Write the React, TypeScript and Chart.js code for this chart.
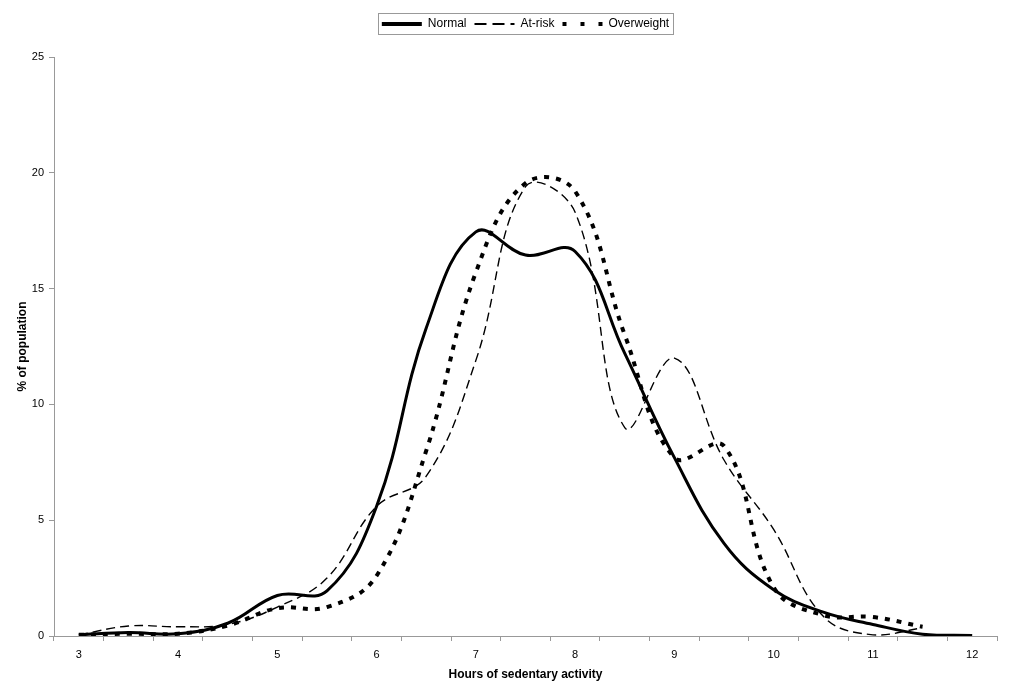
import { useEffect, useRef } from 'react';
import { Chart, registerables } from 'chart.js';

Chart.register(...registerables);

const hours = ['3', '3.5', '4', '4.5', '5', '5.5', '6', '6.5', '7', '7.5', '8', '8.5', '9', '9.5', '10', '10.5', '11', '11.5', '12'];
const xTickLabels = ['3', '4', '5', '6', '7', '8', '9', '10', '11', '12'];

const normal = [0.05, 0.15, 0.1, 0.55, 1.75, 1.95, 5.6, 13.3, 17.45, 16.45, 16.6, 12.2, 7.7, 4.0, 2.0, 1.03, 0.5, 0.08, 0.02];
const atRisk = [0.05, 0.43, 0.4, 0.5, 1.25, 2.5, 5.6, 6.9, 11.9, 19.4, 18.3, 9.0, 12.0, 7.6, 4.6, 0.85, 0.05, 0.35, null];
const overweight = [0.05, 0.1, 0.1, 0.45, 1.2, 1.25, 2.6, 8.0, 15.7, 19.55, 19.2, 13.0, 7.7, 8.2, 2.1, 0.9, 0.82, 0.4, null];

const seriesNames = ['Normal', 'At-risk', 'Overweight'];
const yMax = 25;
const yStep = 5;

export default function App() {
  const ref = useRef<HTMLCanvasElement>(null);

  useEffect(() => {
    if (!ref.current) return;
    Chart.defaults.font.family = "'Liberation Sans', Arial, sans-serif";
    Chart.defaults.color = '#000';

    const legendBorder = {
      id: 'legendBorder',
      beforeLayout(chart: any) {
        const lg = chart.legend;
        if (lg && !lg.__patched) {
          const orig = lg.fit.bind(lg);
          lg.fit = function () {
            orig();
            this.height += 17;
          };
          lg.__patched = true;
        }
      },
      afterLayout(chart: any) {
        const lg = chart.legend;
        if (lg) {
          const shift = (chart.chartArea.left + chart.chartArea.right) / 2 - (lg.left + lg.right) / 2;
          lg.left += shift;
          lg.right += shift;
        }
      },
      afterDraw(chart: any) {
        const boxes = chart.legend?.legendHitBoxes;
        if (!boxes || !boxes.length) return;
        let x0 = Infinity, x1 = -Infinity, y0 = Infinity, y1 = -Infinity;
        for (const b of boxes) {
          x0 = Math.min(x0, b.left);
          x1 = Math.max(x1, b.left + b.width);
          y0 = Math.min(y0, b.top);
          y1 = Math.max(y1, b.top + b.height);
        }
        const ctx = chart.ctx;
        ctx.save();
        ctx.strokeStyle = '#999';
        ctx.lineWidth = 1;
        ctx.setLineDash([]);
        ctx.strokeRect(Math.round(x0 - 4) + 0.5, Math.round(y0 - 5) + 0.5, Math.round(x1 - x0 + 8), Math.round(y1 - y0 + 9));
        ctx.restore();
      },
    };

    const chart = new Chart(ref.current, {
      type: 'line',
      data: {
        labels: hours,
        datasets: [
          {
            label: seriesNames[0],
            data: normal,
            borderColor: '#000',
            backgroundColor: '#000',
            borderWidth: 3,
            pointRadius: 0,
            tension: 0.4,
            fill: false,
          },
          {
            label: seriesNames[1],
            data: atRisk,
            borderColor: '#000',
            backgroundColor: '#000',
            borderWidth: 1.4,
            borderDash: [9, 5],
            pointRadius: 0,
            tension: 0.4,
            fill: false,
          },
          {
            label: seriesNames[2],
            data: overweight,
            borderColor: '#000',
            backgroundColor: '#000',
            borderWidth: 4,
            borderDash: [5, 7],
            pointRadius: 0,
            tension: 0.4,
            fill: false,
          },
        ],
      },
      options: {
        animation: false,
        responsive: true,
        maintainAspectRatio: false,
        layout: { padding: { top: 10, right: 14, bottom: 0, left: 0 } },
        plugins: {
          tooltip: { enabled: false },
          legend: {
            position: 'top',
            labels: {
              usePointStyle: true,
              pointStyle: 'line',
              pointStyleWidth: 40,
              padding: 8,
              color: '#000',
              font: { size: 12 },
              generateLabels: (ch: any) =>
                ch.data.datasets.map((ds: any, i: number) => ({
                  text: ds.label,
                  fillStyle: '#000',
                  strokeStyle: '#000',
                  fontColor: '#000',
                  lineWidth: i === 0 ? 4 : i === 1 ? 2 : 4,
                  lineDash: i === 0 ? [] : i === 1 ? [12, 6] : [4, 14],
                  lineCap: 'butt',
                  pointStyle: 'line',
                  hidden: false,
                  datasetIndex: i,
                })),
            },
          },
        },
        scales: {
          x: {
            type: 'category',
            offset: true,
            grid: { offset: true, drawOnChartArea: false, drawTicks: true, tickLength: 5, color: '#999' },
            border: { color: '#999' },
            ticks: {
              autoSkip: false,
              maxRotation: 0,
              padding: 7,
              font: { size: 11 },
              color: '#000',
              callback: (_v: any, index: number) => (xTickLabels.includes(hours[index]) ? hours[index] : ''),
            },
            title: {
              display: true,
              text: 'Hours of sedentary activity',
              font: { size: 12, weight: 'bold' },
              color: '#000',
              padding: { top: 2, bottom: 2 },
            },
            afterFit: (scale: any) => {
              scale.height = 48;
            },
          },
          y: {
            min: 0,
            max: yMax,
            grid: { drawOnChartArea: false, drawTicks: true, tickLength: 5, color: '#999' },
            border: { color: '#999' },
            ticks: { stepSize: yStep, padding: 5, font: { size: 11 }, color: '#000' },
            title: {
              display: true,
              text: '% of population',
              font: { size: 12, weight: 'bold' },
              color: '#000',
              padding: { top: 15, bottom: 0 },
            },
            afterFit: (scale: any) => {
              scale.width = 54;
            },
          },
        },
      },
      plugins: [legendBorder],
    });

    return () => chart.destroy();
  }, []);

  return (
    <div style={{ position: 'fixed', left: 0, top: 0, width: 1011, height: 684, background: '#fff' }}>
      <canvas ref={ref} />
    </div>
  );
}
